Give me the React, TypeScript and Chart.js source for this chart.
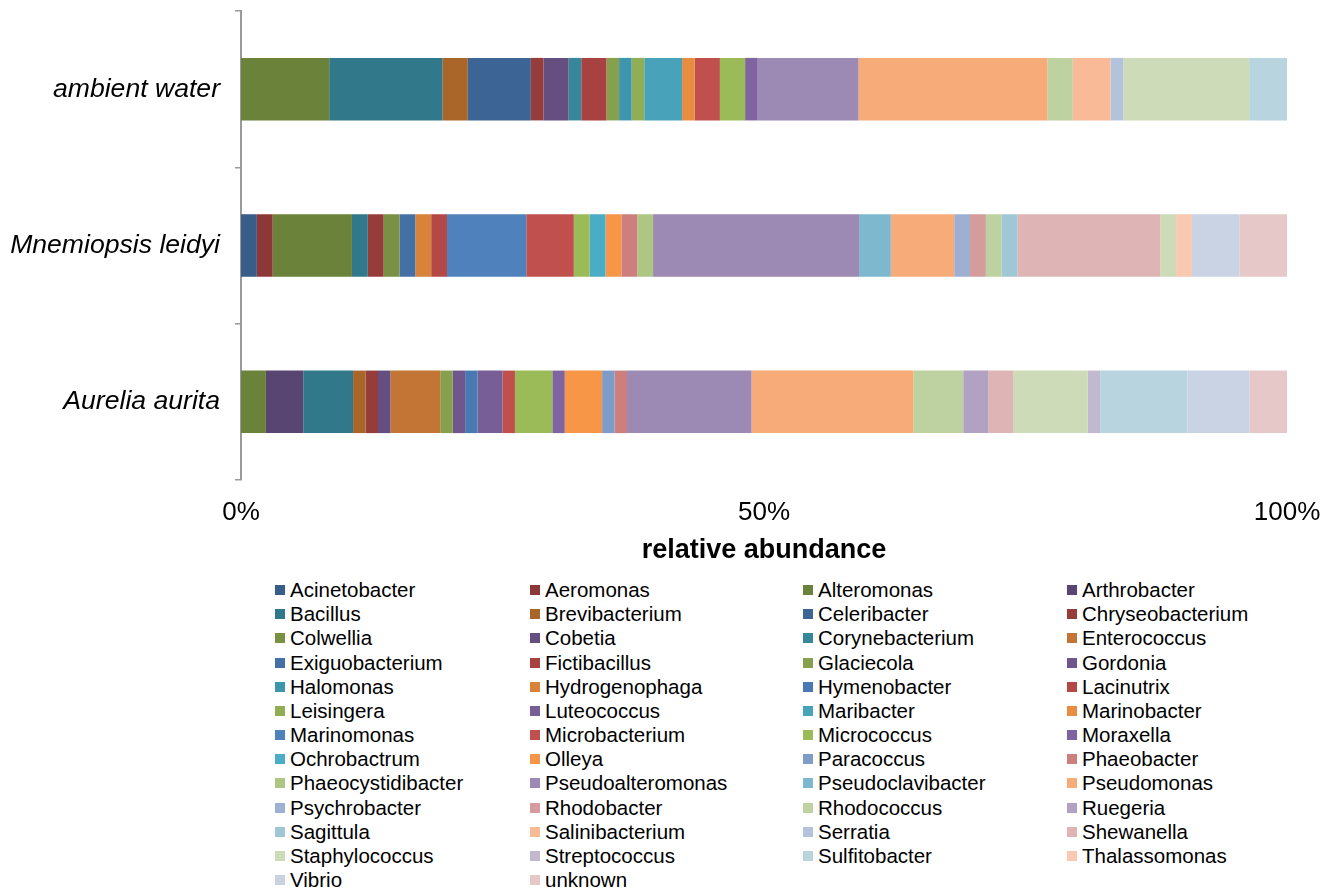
import React, { useEffect, useRef } from "react";
import { Chart, registerables } from "chart.js";

Chart.register(...registerables);

const categories = ["ambient water", "Mnemiopsis leidyi", "Aurelia aurita"];

const genera = [
  "Acinetobacter", "Aeromonas", "Alteromonas", "Arthrobacter",
  "Bacillus", "Brevibacterium", "Celeribacter", "Chryseobacterium",
  "Colwellia", "Cobetia", "Corynebacterium", "Enterococcus",
  "Exiguobacterium", "Fictibacillus", "Glaciecola", "Gordonia",
  "Halomonas", "Hydrogenophaga", "Hymenobacter", "Lacinutrix",
  "Leisingera", "Luteococcus", "Maribacter", "Marinobacter",
  "Marinomonas", "Microbacterium", "Micrococcus", "Moraxella",
  "Ochrobactrum", "Olleya", "Paracoccus", "Phaeobacter",
  "Phaeocystidibacter", "Pseudoalteromonas", "Pseudoclavibacter", "Pseudomonas",
  "Psychrobacter", "Rhodobacter", "Rhodococcus", "Ruegeria",
  "Sagittula", "Salinibacterium", "Serratia", "Shewanella",
  "Staphylococcus", "Streptococcus", "Sulfitobacter", "Thalassomonas",
  "Vibrio", "unknown",
];

// clone counts per genus (same order as genera)
const ambientWater = [
  0, 0, 7, 0, 9, 2, 5, 1, 0, 2, 1, 0, 0, 2, 1, 0, 1, 0, 0, 0, 1, 0, 3, 1, 0,
  2, 2, 1, 0, 0, 0, 0, 0, 8, 0, 15, 0, 0, 2, 0, 0, 3, 1, 0, 10, 0, 3, 0, 0, 0,
];
const mnemiopsisLeidyi = [
  1, 1, 5, 0, 1, 0, 0, 1, 1, 0, 0, 0, 1, 0, 0, 0, 0, 1, 0, 1, 0, 0, 0, 0, 5,
  3, 1, 0, 1, 1, 0, 1, 1, 13, 2, 4, 1, 1, 1, 0, 1, 0, 0, 9, 1, 0, 0, 1, 3, 3,
];
const aureliaAurita = [
  0, 0, 2, 3, 4, 1, 0, 1, 0, 1, 0, 4, 0, 0, 1, 1, 0, 0, 1, 0, 0, 2, 0, 0, 0,
  1, 3, 1, 0, 3, 1, 1, 0, 10, 0, 13, 0, 0, 4, 2, 0, 0, 0, 2, 6, 1, 7, 0, 5, 3,
];

const colors = [
  "#385D8A", "#8C3836", "#6B823A", "#584571",
  "#31788B", "#AA6629", "#3C6494", "#963C3A",
  "#7A9143", "#644F80", "#36879A", "#C27534",
  "#4570A6", "#A84240", "#87A04D", "#6F578D",
  "#3E96AD", "#D8823A", "#4A78B2", "#B44846",
  "#92AE55", "#775E97", "#48A2BA", "#E88C41",
  "#4F81BD", "#C0504D", "#9BBB59", "#8064A2",
  "#4BACC6", "#F79646", "#7F9BC8", "#CD7F7D",
  "#AEC684", "#9C89B4", "#7DB8CF", "#F7AB79",
  "#9EB0D2", "#D49C9B", "#BED1A0", "#B1A2C4",
  "#9FC7D6", "#F9BA98", "#B3C2DD", "#DEB5B4",
  "#CEDBB8", "#C2B8D0", "#B7D4DF", "#F9C9B1",
  "#C9D3E4", "#E6C8C9",
];

const xTicks = [0, 50, 100];

const FONT = '"Liberation Sans", Arial, sans-serif';

function App() {
  const ref = useRef<HTMLCanvasElement | null>(null);

  useEffect(() => {
    if (!ref.current) return;
    const series = [ambientWater, mnemiopsisLeidyi, aureliaAurita];
    const totals = series.map((s) => s.reduce((a, b) => a + b, 0));
    const datasets = genera.map((g, i) => ({
      label: g,
      data: series.map((s, k) => (s[i] / totals[k]) * 100),
      backgroundColor: colors[i],
      borderWidth: 0,
      barPercentage: 0.4,
      categoryPercentage: 1,
    }));
    const chart = new Chart(ref.current, {
      type: "bar",
      data: { labels: categories, datasets },
      options: {
        indexAxis: "y",
        animation: false,
        responsive: false,
        layout: { padding: { top: 3, right: 43, left: 0, bottom: 0 } },
        plugins: { legend: { display: false }, tooltip: { enabled: false } },
        scales: {
          y: {
            stacked: true,
            grid: {
              offset: true,
              drawOnChartArea: false,
              drawTicks: true,
              tickLength: 6,
              color: "#9a9a9a",
              lineWidth: 1.5,
            },
            border: { display: true, color: "#9a9a9a", width: 2 },
            ticks: {
              color: "#000",
              padding: 15,
              font: { family: FONT, size: 26.6, style: "italic" },
            },
            afterFit: (s: any) => {
              s.width = 233;
              s.paddingTop = 0;
              s.paddingBottom = 0;
            },
          },
          x: {
            stacked: true,
            min: 0,
            max: 100,
            afterBuildTicks: (s: any) => {
              s.ticks = xTicks.map((v) => ({ value: v }));
            },
            ticks: {
              color: "#000",
              padding: 9,
              font: { family: FONT, size: 26 },
              callback: (v: any) => v + "%",
            },
            grid: { display: false },
            border: { display: false },
            title: {
              display: true,
              text: "relative abundance",
              color: "#000",
              font: { family: FONT, size: 27, weight: "bold" },
              padding: { top: 0, bottom: 6 },
            },
            afterFit: (s: any) => {
              s.height = 93;
            },
          },
        },
      },
    });
    return () => chart.destroy();
  }, []);

  return (
    <div style={{ position: "relative", width: 1322, height: 885, fontFamily: FONT }}>
      <canvas ref={ref} width={1322} height={565} style={{ display: "block" }} />
      <div
        style={{
          position: "absolute",
          left: 267,
          top: 570,
          display: "grid",
          gridTemplateColumns: "255px 273px 264px 250px",
          fontSize: 20.5,
          lineHeight: "24.17px",
          color: "#000",
        }}
      >
        {genera.map((g, i) => (
          <div key={g} style={{ display: "flex", alignItems: "center", whiteSpace: "nowrap" }}>
            <span
              style={{
                display: "inline-block",
                width: 10,
                height: 10,
                background: colors[i],
                marginRight: 5,
                flex: "none",
              }}
            />
            <span>{g}</span>
          </div>
        ))}
      </div>
    </div>
  );
}

export default App;
